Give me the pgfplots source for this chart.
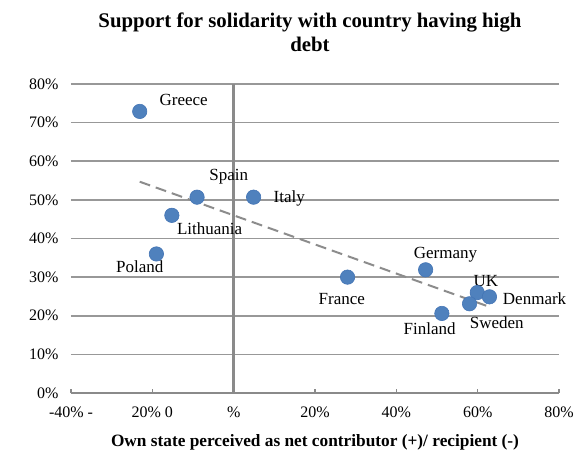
\documentclass[border=0pt]{standalone}
\usepackage{fontspec}
\setmainfont{Liberation Serif}
\usepackage{pgfplots}
\pgfplotsset{compat=1.18}
\definecolor{dotblue}{HTML}{4F81BD}
\definecolor{dotedge}{HTML}{4475B5}
\definecolor{gridgray}{HTML}{989898}
\definecolor{axisgray}{HTML}{8A8A8A}
\definecolor{trendgray}{HTML}{8C8C8C}

\begin{document}
\begin{tikzpicture}
\begin{axis}[
  name=ax,
  scale only axis,
  clip=false,
  width=488pt, height=309pt,
  xmin=-40, xmax=80, ymin=0, ymax=80,
  xtick={-40,-20,...,80},
  xticklabels={-40\% -, 20\% 0, \%, 20\%, 40\%, 60\%, 80\%},
  ytick={0,10,...,80},
  yticklabel={\pgfmathprintnumber{\tick}\%},
  axis line style={draw=none},
  ymajorgrids,
  grid style={gridgray, line width=1.6pt},
  tick pos=left,
  tick align=inside,
  major tick length=4pt,
  xtick style={axisgray, line width=1.6pt},
  ytick style={draw=none},
  tick label style={font=\fontsize{16}{18}\selectfont},
  /pgf/number format/assume math mode=true,
  yticklabel style={xshift=-9pt},
  xticklabel style={yshift=-10pt},
  xlabel={Own state perceived as net contributor (+)/ recipient (-)},
  xlabel style={font=\fontsize{17.3}{20}\selectfont\bfseries, yshift=-10pt},
  title={Support for solidarity with country having high\\debt},
  title style={font=\fontsize{20.8}{24}\selectfont\bfseries, align=center, yshift=23pt, xshift=-5pt},
]
\draw[axisgray, line width=2.4pt] (axis cs:0,0) -- (axis cs:0,80);
\draw[axisgray, line width=2.4pt] (axis cs:-40,0) -- (axis cs:80,0);

% trend line
\addplot[trendgray, line width=2pt, dash pattern=on 11pt off 6pt] coordinates {(-23.1,54.7) (62.9,22.3)};

\addplot[only marks, mark=*, mark size=7.2pt,
  mark options={fill=dotblue, draw=dotedge, line width=0.6pt}] coordinates {
  (-23.1,72.9) % Greece
  (-9.0,50.7)  % Spain
  (4.9,50.7)   % Italy
  (-15.2,46.0) % Lithuania
  (-19.0,36.0) % Poland
  (28.0,30.0)  % France
  (47.2,31.9)  % Germany
  (59.9,26.0)  % UK
  (62.9,24.9)  % Denmark
  (58.0,23.1)  % Sweden
  (51.2,20.6)  % Finland
};

\begin{scope}[every node/.style={font=\fontsize{17}{19}\selectfont, inner sep=0pt}]
\node at (axis cs:-12.3,75.9) {Greece};
\node at (axis cs:-1.2,56.0) {Spain};
\node[anchor=west] at (axis cs:9.8,50.3) {Italy};
\node at (axis cs:-5.9,42.5) {Lithuania};
\node at (axis cs:-23.1,32.6) {Poland};
\node at (axis cs:26.6,24.4) {France};
\node at (axis cs:52.1,35.8) {Germany};
\node at (axis cs:62.0,29.0) {UK};
\node at (axis cs:74.0,24.4) {Denmark};
\node at (axis cs:64.7,18.1) {Sweden};
\node at (axis cs:48.2,16.6) {Finland};
\end{scope}
\end{axis}
\pgfresetboundingbox
\path (ax.south west) ++(-71pt,-62pt) rectangle ++(575pt,455pt);
\end{tikzpicture}
\end{document}
